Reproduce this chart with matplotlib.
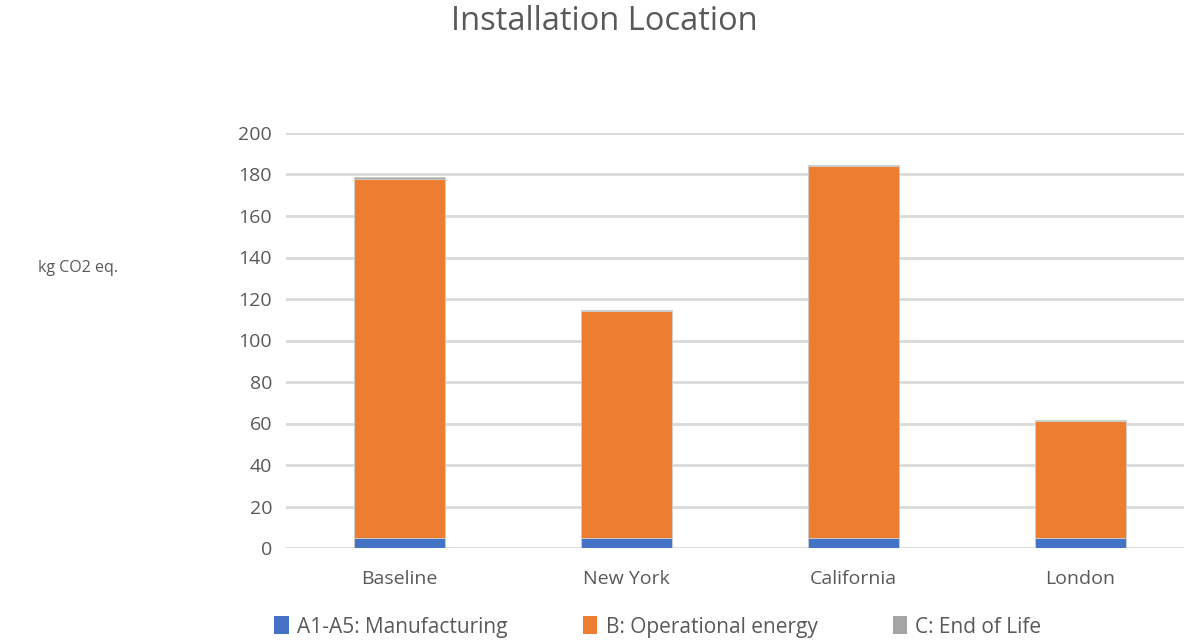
import matplotlib
matplotlib.use("Agg")
import matplotlib.pyplot as plt
import numpy as np

plt.rcParams['font.family'] = ['Open Sans', 'DejaVu Sans']

locations = ["Baseline", "New York", "California", "London"]
manufacturing = [5, 5, 5, 5]
operational = [173, 109, 179, 56]
end_of_life = [0.8, 0.8, 0.8, 0.8]
series_names = ["A1-A5: Manufacturing", "B: Operational energy", "C: End of Life"]
colors = ["#4472c4", "#ed7d31", "#a5a5a5"]
yticks = [0, 20, 40, 60, 80, 100, 120, 140, 160, 180, 200]

text_color = "#595959"
grid_color = "#d9d9d9"

fig = plt.figure(figsize=(11.84, 6.42), dpi=100)
W, H = 1184, 642
ax = fig.add_axes([286 / W, 1 - 548 / H, 908 / W, 415 / H])

x = np.arange(len(locations))
bottom = np.zeros(len(locations))
for vals, name, col in zip([manufacturing, operational, end_of_life], series_names, colors):
    ax.bar(x, vals, width=0.4, bottom=bottom, color=col, label=name,
           edgecolor="#cfcfcf", linewidth=0.6, zorder=3)
    bottom += np.array(vals)

ax.set_xlim(-0.5, 3.5)
ax.set_ylim(0, 200)
ax.set_yticks(yticks)
ax.set_xticks(x)
ax.set_xticklabels(locations)
ax.grid(axis="y", color=grid_color, linewidth=2, zorder=0)
ax.tick_params(axis="both", length=0, labelsize=14, colors=text_color)
ax.tick_params(axis="y", pad=10)
ax.tick_params(axis="x", pad=15.5)
for s in ax.spines.values():
    s.set_visible(False)

fig.text(604 / W, 1 - 21 / H, "Installation Location", ha="center", va="center",
         fontsize=23.5, color=text_color)
fig.text(38 / W, 1 - 268 / H, "kg CO2 eq.", ha="left", va="center",
         fontsize=11.5, color=text_color)

handles, labels = ax.get_legend_handles_labels()
leg = fig.legend(handles, labels, loc="center", ncol=3,
                 bbox_to_anchor=(658 / W, 1 - 627 / H), frameon=False,
                 fontsize=15, handlelength=0.7, handleheight=0.95,
                 handletextpad=0.4, columnspacing=3.6, labelcolor=text_color)
for h in leg.legend_handles:
    h.set_edgecolor("none")

fig.savefig("out.png", dpi=100, facecolor="white")
